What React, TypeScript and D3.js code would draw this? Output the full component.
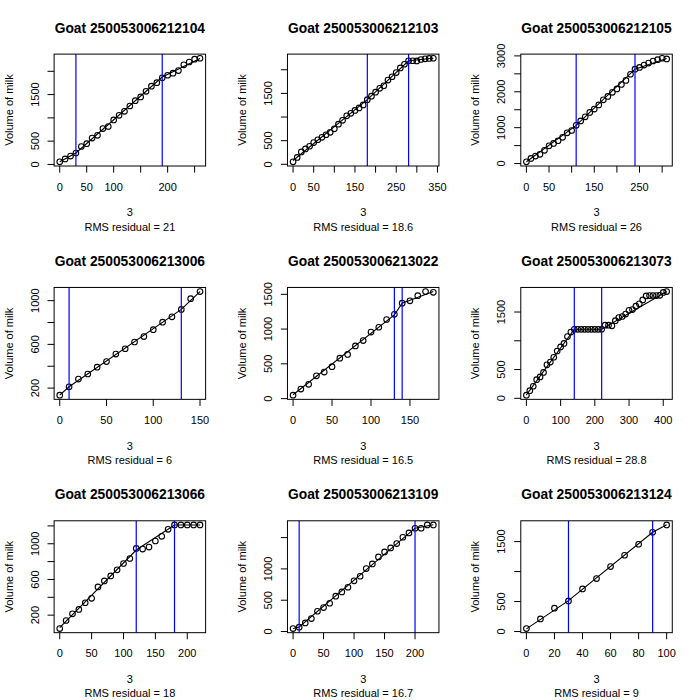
import React from "react";
import * as d3 from "d3";

// ---------- data ----------
const goatIds = [
  "250053006212104", "250053006212103", "250053006212105",
  "250053006213006", "250053006213022", "250053006213073",
  "250053006213066", "250053006213109", "250053006213124",
];
const rmsResiduals = ["21", "18.6", "26", "6", "16.5", "28.8", "18", "16.7", "9"];
const xLabelText = "3";
const yLabelText = "Volume of milk";

// Goat 250053006212104
const days1 = [0,10,20,30,40,50,60,70,80,90,100,110,120,130,140,150,160,170,180,190,200,210,220,230,240,250,260];
const milk1 = [55,118,180,246,385,445,565,625,770,815,955,1055,1140,1255,1370,1450,1570,1680,1755,1860,1915,1960,2015,2140,2200,2260,2280];
const breaks1 = [30, 190];
const fitDays1 = [0, 30, 190, 260];
const fitMilk1 = [58, 246, 1877, 2275];
const xTicks1 = [0,50,100,150,200,250];
const xTickLabels1 = [0,50,100,200];
const yTicks1 = [0,500,1000,1500,2000];
const yTickLabels1 = [0,500,1500];

// Goat 250053006212103
const days2 = [0,10,20,30,40,50,60,70,80,90,100,110,120,130,140,150,160,170,180,190,200,210,220,230,240,250,260,270,280,290,300,310,320,330,340];
const milk2 = [52,145,263,326,382,460,520,572,625,677,750,850,930,1025,1078,1140,1193,1256,1368,1442,1526,1607,1660,1782,1852,1940,2038,2116,2190,2190,2186,2217,2231,2239,2243];
const breaks2 = [180, 280];
const fitDays2 = [0, 180, 280, 340];
const fitMilk2 = [80, 1368, 2190, 2243];
const xTicks2 = [0,50,100,150,200,250,300,350];
const xTickLabels2 = [0,50,150,250,350];
const yTicks2 = [0,500,1000,1500,2000];
const yTickLabels2 = [0,500,1500];

// Goat 250053006212105
const days3 = [0,10,20,30,40,50,60,70,80,90,100,110,120,130,140,150,160,170,180,190,200,210,220,230,240,250,260,270,280,290,300,310];
const milk3 = [47,142,209,256,370,494,560,636,731,855,921,1064,1187,1301,1425,1519,1633,1776,1871,1985,2080,2203,2317,2488,2631,2678,2745,2801,2858,2896,2934,2915];
const breaks3 = [110, 240];
const fitDays3 = [0, 110, 240, 310];
const fitMilk3 = [50, 1064, 2631, 2930];
const xTicks3 = [0,50,100,150,200,250,300];
const xTickLabels3 = [0,50,150,250];
const yTicks3 = [0,500,1000,1500,2000,2500,3000];
const yTickLabels3 = [0,1000,2000,3000];

// Goat 250053006213006
const days4 = [0,10,20,30,40,50,60,70,80,90,100,110,120,130,140,150];
const milk4 = [135,212,283,329,391,443,511,560,622,671,735,803,852,920,1018,1083];
const breaks4 = [10, 130];
const fitDays4 = [0, 10, 130, 150];
const fitMilk4 = [135, 212, 920, 1083];
const xTicks4 = [0,50,100,150];
const xTickLabels4 = [0,50,100,150];
const yTicks4 = [200,400,600,800,1000];
const yTickLabels4 = [200,600,1000];

// Goat 250053006213022
const days5 = [0,10,20,30,40,50,60,70,80,90,100,110,120,130,140,150,160,170,180];
const milk5 = [49,137,205,327,381,459,581,635,757,835,957,1026,1138,1212,1373,1407,1480,1539,1529];
const breaks5 = [130, 140];
const fitDays5 = [0, 130, 140, 180];
const fitMilk5 = [55, 1205, 1373, 1540];
const xTicks5 = [0,50,100,150];
const xTickLabels5 = [0,50,100,150];
const yTicks5 = [0,500,1000,1500];
const yTickLabels5 = [0,500,1000,1500];

// Goat 250053006213073
const days6 = [0,10,20,30,40,50,60,70,80,90,100,110,120,130,140,150,160,170,180,190,200,210,220,230,240,250,260,270,280,290,300,310,320,330,340,350,360,370,380,390,400,410];
const milk6 = [54,132,210,324,372,450,582,630,714,822,894,954,1074,1152,1200,1200,1200,1200,1200,1200,1200,1200,1200,1272,1272,1260,1350,1404,1422,1464,1530,1542,1602,1644,1710,1780,1785,1785,1785,1790,1840,1855];
const breaks6 = [140, 220];
const fitDays6 = [0, 140, 220, 410];
const fitMilk6 = [60, 1200, 1200, 1855];
const xTicks6 = [0,100,200,300,400];
const xTickLabels6 = [0,100,200,300,400];
const yTicks6 = [0,500,1000,1500];
const yTickLabels6 = [0,500,1500];

// Goat 250053006213066
const days7 = [0,10,20,30,40,50,60,70,80,90,100,110,120,130,140,150,160,170,180,190,200,210,220];
const milk7 = [50,140,215,264,339,388,516,583,640,708,779,835,948,941,963,1031,1083,1162,1211,1211,1211,1211,1211];
const breaks7 = [120, 180];
const fitDays7 = [0, 120, 180, 220];
const fitMilk7 = [60, 930, 1211, 1211];
const xTicks7 = [0,50,100,150,200];
const xTickLabels7 = [0,50,100,150,200];
const yTicks7 = [200,400,600,800,1000,1200];
const yTickLabels7 = [200,600,1000];

// Goat 250053006213109
const days8 = [0,10,20,30,40,50,60,70,80,90,100,110,120,130,140,150,160,170,180,190,200,210,220,230];
const milk8 = [48,69,138,207,324,383,452,564,633,707,809,883,1005,1080,1191,1271,1335,1404,1505,1574,1649,1649,1702,1702];
const breaks8 = [10, 200];
const fitDays8 = [0, 10, 200, 230];
const fitMilk8 = [48, 72, 1650, 1705];
const xTicks8 = [0,50,100,150,200];
const xTickLabels8 = [0,50,100,150,200];
const yTicks8 = [0,500,1000,1500];
const yTickLabels8 = [0,500,1000];

// Goat 250053006213124
const days9 = [0,10,20,30,40,50,60,70,80,90,100];
const milk9 = [50,211,389,511,711,883,1083,1272,1456,1656,1778];
const breaks9 = [30, 90];
const fitDays9 = [0, 30, 90, 100];
const fitMilk9 = [45, 515, 1656, 1780];
const xTicks9 = [0,20,40,60,80,100];
const xTickLabels9 = [0,20,40,60,80,100];
const yTicks9 = [0,500,1000,1500];
const yTickLabels9 = [0,500,1500];

const panels = [
  { days: days1, milk: milk1, breaks: breaks1, fitDays: fitDays1, fitMilk: fitMilk1, xTicks: xTicks1, xTickLabels: xTickLabels1, yTicks: yTicks1, yTickLabels: yTickLabels1 },
  { days: days2, milk: milk2, breaks: breaks2, fitDays: fitDays2, fitMilk: fitMilk2, xTicks: xTicks2, xTickLabels: xTickLabels2, yTicks: yTicks2, yTickLabels: yTickLabels2 },
  { days: days3, milk: milk3, breaks: breaks3, fitDays: fitDays3, fitMilk: fitMilk3, xTicks: xTicks3, xTickLabels: xTickLabels3, yTicks: yTicks3, yTickLabels: yTickLabels3 },
  { days: days4, milk: milk4, breaks: breaks4, fitDays: fitDays4, fitMilk: fitMilk4, xTicks: xTicks4, xTickLabels: xTickLabels4, yTicks: yTicks4, yTickLabels: yTickLabels4 },
  { days: days5, milk: milk5, breaks: breaks5, fitDays: fitDays5, fitMilk: fitMilk5, xTicks: xTicks5, xTickLabels: xTickLabels5, yTicks: yTicks5, yTickLabels: yTickLabels5 },
  { days: days6, milk: milk6, breaks: breaks6, fitDays: fitDays6, fitMilk: fitMilk6, xTicks: xTicks6, xTickLabels: xTickLabels6, yTicks: yTicks6, yTickLabels: yTickLabels6 },
  { days: days7, milk: milk7, breaks: breaks7, fitDays: fitDays7, fitMilk: fitMilk7, xTicks: xTicks7, xTickLabels: xTickLabels7, yTicks: yTicks7, yTickLabels: yTickLabels7 },
  { days: days8, milk: milk8, breaks: breaks8, fitDays: fitDays8, fitMilk: fitMilk8, xTicks: xTicks8, xTickLabels: xTickLabels8, yTicks: yTicks8, yTickLabels: yTickLabels8 },
  { days: days9, milk: milk9, breaks: breaks9, fitDays: fitDays9, fitMilk: fitMilk9, xTicks: xTicks9, xTickLabels: xTickLabels9, yTicks: yTicks9, yTickLabels: yTickLabels9 },
];

// ---------- layout ----------
const W = 700;
const PANEL = W / 3;
const LINE = 13.2;
const plotL = 4.1 * LINE;
const plotR = PANEL - 2.1 * LINE;
const plotT = 4.1 * LINE;
const plotB = PANEL - 5.1 * LINE;
const TICK = 0.5 * LINE;
const FONT = "'Liberation Sans', Arial, Helvetica, sans-serif";
const FS = 11;

type P = (typeof panels)[number];

function Panel({ p, idx }: { p: P; idx: number }) {
  const col = idx % 3;
  const row = Math.floor(idx / 3);
  const [x0, x1] = d3.extent(p.days) as [number, number];
  const [y0, y1] = d3.extent(p.milk) as [number, number];
  const xp = (x1 - x0) * 0.04;
  const yp = (y1 - y0) * 0.04;
  const x = d3.scaleLinear().domain([x0 - xp, x1 + xp]).range([plotL, plotR]);
  const y = d3.scaleLinear().domain([y0 - yp, y1 + yp]).range([plotB, plotT]);
  const fit = p.fitDays.map((d, i) => [d, p.fitMilk[i]] as [number, number]);
  const line = d3.line<[number, number]>().x((d) => x(d[0])).y((d) => y(d[1]));
  const cx = (plotL + plotR) / 2;
  const cy = (plotT + plotB) / 2;
  const clipId = `clip${idx}`;
  return (
    <g transform={`translate(${col * PANEL},${row * PANEL})`}>
      <defs>
        <clipPath id={clipId}>
          <rect x={plotL} y={plotT} width={plotR - plotL} height={plotB - plotT} />
        </clipPath>
      </defs>
      <text x={cx} y={28.3} textAnchor="middle" dominantBaseline="central" fontSize={13.8} fontWeight="bold">
        {`Goat ${goatIds[idx]}`}
      </text>
      <g clipPath={`url(#${clipId})`}>
        {p.days.map((d, i) => (
          <circle key={i} cx={x(d)} cy={y(p.milk[i])} r={2.8} fill="none" stroke="#000" strokeWidth={1.1} />
        ))}
        <path d={line(fit) || ""} fill="none" stroke="#000" strokeWidth={1.1} />
        {p.breaks.map((b, i) => (
          <line key={i} x1={x(b)} x2={x(b)} y1={plotT} y2={plotB} stroke="#0000FF" strokeWidth={1.2} />
        ))}
      </g>
      <rect x={plotL} y={plotT} width={plotR - plotL} height={plotB - plotT} fill="none" stroke="#000" strokeWidth={1} />
      {/* x axis */}
      {p.xTicks.map((t) => (
        <line key={`xt${t}`} x1={x(t)} x2={x(t)} y1={plotB} y2={plotB + TICK} stroke="#000" strokeWidth={1} />
      ))}
      {p.xTickLabels.map((t) => (
        <text key={`xl${t}`} x={x(t)} y={186.5} textAnchor="middle" dominantBaseline="central" fontSize={FS}>
          {String(t)}
        </text>
      ))}
      {/* y axis */}
      {p.yTicks.map((t) => (
        <line key={`yt${t}`} x1={plotL} x2={plotL - TICK} y1={y(t)} y2={y(t)} stroke="#000" strokeWidth={1} />
      ))}
      {p.yTickLabels.map((t) => (
        <text key={`yl${t}`} transform={`translate(34.7,${y(t)}) rotate(-90)`} textAnchor="middle" dominantBaseline="central" fontSize={FS}>
          {String(t)}
        </text>
      ))}
      <text transform={`translate(8.5,${cy}) rotate(-90)`} textAnchor="middle" dominantBaseline="central" fontSize={FS}>
        {yLabelText}
      </text>
      <text x={cx} y={212.3} textAnchor="middle" dominantBaseline="central" fontSize={FS}>
        {xLabelText}
      </text>
      <text x={cx} y={226.6} textAnchor="middle" dominantBaseline="central" fontSize={FS}>
        {`RMS residual = ${rmsResiduals[idx]}`}
      </text>
    </g>
  );
}

export default function App() {
  return (
    <svg
      width={W}
      height={W}
      viewBox={`0 0 ${W} ${W}`}
      style={{ position: "absolute", left: 0, top: 0, background: "#fff" }}
      fontFamily={FONT}
      fill="#000"
    >
      <rect x={0} y={0} width={W} height={W} fill="#fff" />
      {panels.map((p, i) => (
        <Panel key={i} p={p} idx={i} />
      ))}
    </svg>
  );
}
